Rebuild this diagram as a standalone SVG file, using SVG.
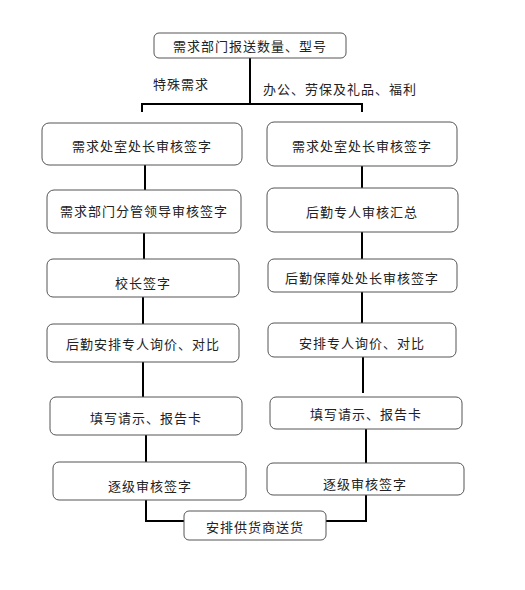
<svg xmlns="http://www.w3.org/2000/svg" width="525" height="590" viewBox="0 0 525 590">
<style>
.box{fill:#fff;stroke:#555;stroke-width:1}
.t{font-family:"Noto Sans CJK SC","Liberation Sans",sans-serif;font-size:13px;fill:#222;text-anchor:middle;dominant-baseline:central;letter-spacing:1px}
.lbl{font-family:"Noto Sans CJK SC","Liberation Sans",sans-serif;font-size:13px;fill:#222;dominant-baseline:central;letter-spacing:1px}
.c{fill:none;stroke:#000;stroke-width:2}
</style>
<rect width="525" height="590" fill="#fff"/>
<g id="connectors">
<path class="c" d="M250 58V104M142 112V104H362V112"/>
<path class="c" d="M145 165V190M144 233V259M143 297V324M143 362V397M146 435V462M146 500V521H184"/>
<path class="c" d="M362 166V188M362 232V259M362 292V323M363 357V393M366 429V463M366 495V521H326"/>
</g>
<g id="labels">
<text class="lbl" x="153" y="83">特殊需求</text>
<text class="lbl" x="263" y="88">办公、劳保及礼品、福利</text>
</g>
<g id="n0"><rect class="box" x="154" y="33" width="192" height="25" rx="5"/><text class="t" x="250" y="45.5">需求部门报送数量、型号</text></g>
<g id="l1"><rect class="box" x="42" y="123" width="200" height="42" rx="7"/><text class="t" x="142" y="145">需求处室处长审核签字</text></g>
<g id="l2"><rect class="box" x="47" y="190" width="194" height="43" rx="7"/><text class="t" x="144" y="210">需求部门分管领导审核签字</text></g>
<g id="l3"><rect class="box" x="47" y="259" width="192" height="38" rx="6"/><text class="t" x="143" y="282">校长签字</text></g>
<g id="l4"><rect class="box" x="47" y="324" width="192" height="38" rx="6"/><text class="t" x="143" y="343">后勤安排专人询价、对比</text></g>
<g id="l5"><rect class="box" x="50" y="397" width="192" height="38" rx="6"/><text class="t" x="146" y="417">填写请示、报告卡</text></g>
<g id="l6"><rect class="box" x="53" y="462" width="193" height="38" rx="6"/><text class="t" x="150" y="485">逐级审核签字</text></g>
<g id="r1"><rect class="box" x="267" y="122" width="190" height="44" rx="7"/><text class="t" x="362" y="145">需求处室处长审核签字</text></g>
<g id="r2"><rect class="box" x="267" y="188" width="191" height="44" rx="7"/><text class="t" x="362" y="211">后勤专人审核汇总</text></g>
<g id="r3"><rect class="box" x="268" y="259" width="189" height="33" rx="6"/><text class="t" x="362" y="277">后勤保障处处长审核签字</text></g>
<g id="r4"><rect class="box" x="268" y="323" width="188" height="34" rx="6"/><text class="t" x="362" y="342">安排专人询价、对比</text></g>
<g id="r5"><rect class="box" x="270" y="397" width="192" height="32" rx="6"/><text class="t" x="366" y="413">填写请示、报告卡</text></g>
<g id="r6"><rect class="box" x="267" y="463" width="197" height="32" rx="6"/><text class="t" x="365" y="483">逐级审核签字</text></g>
<g id="n_end"><rect class="box" x="184" y="511" width="142" height="29" rx="5"/><text class="t" x="255" y="526">安排供货商送货</text></g>
</svg>
